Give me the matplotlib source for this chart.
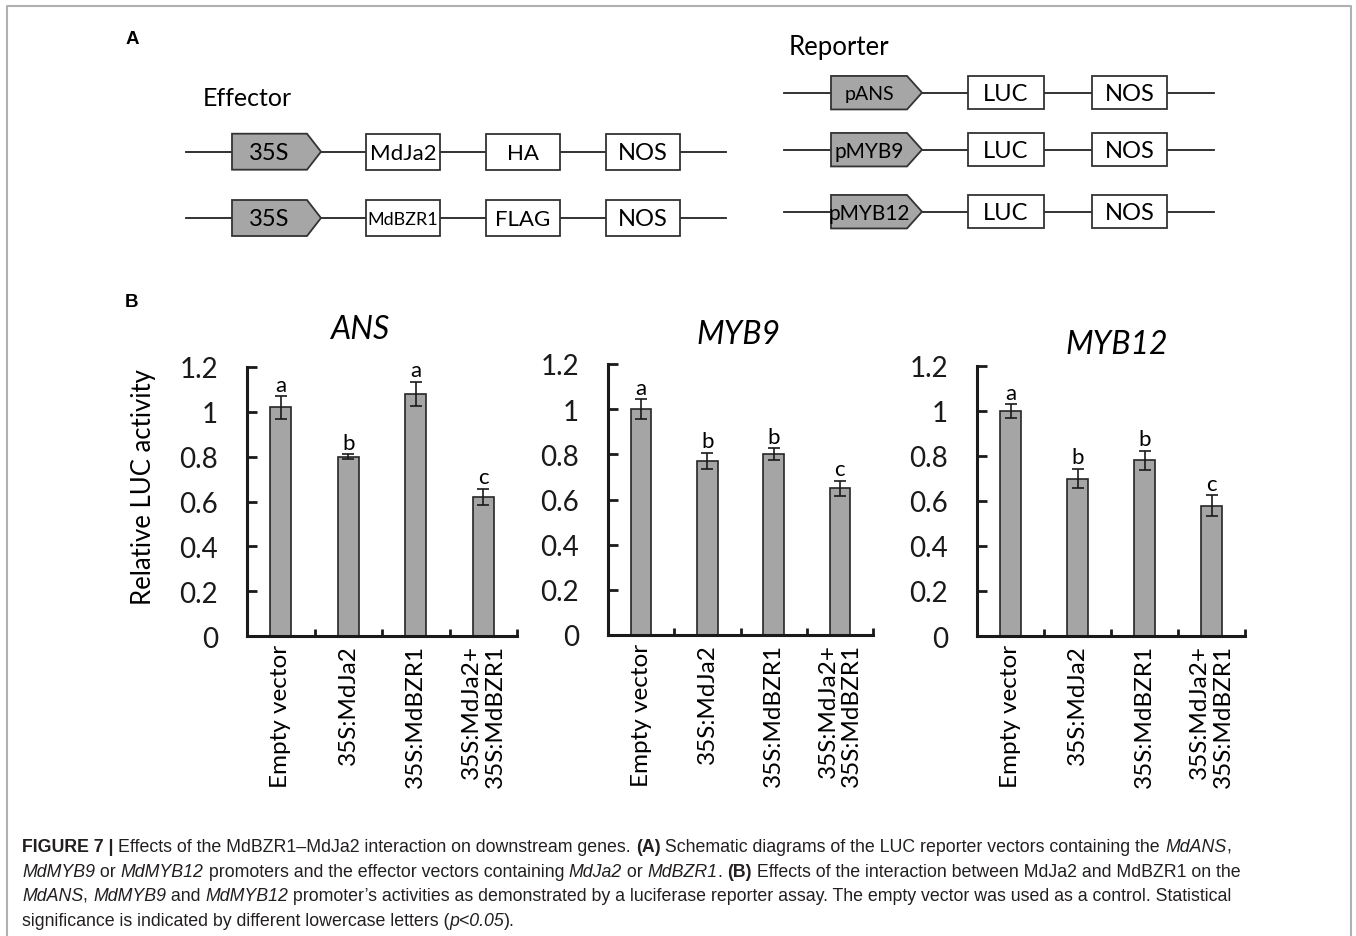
import matplotlib
matplotlib.use('Agg')
import matplotlib.pyplot as plt
from matplotlib.patches import Polygon, Rectangle

plt.rcParams['font.family'] = ['Lato', 'DejaVu Sans']

W, H = 1356, 937

# ---- data (panel B) ----
groups = ['Empty vector', '35S:MdJa2', '35S:MdBZR1', '35S:MdJa2+\n35S:MdBZR1']
genes = ['ANS', 'MYB9', 'MYB12']
ans_mean = [1.02, 0.80, 1.08, 0.62]
ans_err = [0.05, 0.012, 0.055, 0.037]
ans_sig = ['a', 'b', 'a', 'c']
myb9_mean = [1.00, 0.77, 0.80, 0.65]
myb9_err = [0.045, 0.037, 0.027, 0.034]
myb9_sig = ['a', 'b', 'b', 'c']
myb12_mean = [1.00, 0.70, 0.78, 0.58]
myb12_err = [0.03, 0.043, 0.043, 0.047]
myb12_sig = ['a', 'b', 'b', 'c']
yticks = [0, 0.2, 0.4, 0.6, 0.8, 1.0, 1.2]
ytick_labels = ['0', '0.2', '0.4', '0.6', '0.8', '1', '1.2']

# ---- constructs (panel A) ----
effector_promoter = ['35S', '35S']
effector_gene = ['MdJa2', 'MdBZR1']
effector_tag = ['HA', 'FLAG']
effector_term = ['NOS', 'NOS']
reporter_promoter = ['pANS', 'pMYB9', 'pMYB12']
reporter_gene = ['LUC', 'LUC', 'LUC']
reporter_term = ['NOS', 'NOS', 'NOS']

fig = plt.figure(figsize=(W / 100, H / 100), dpi=100)

# overlay in pixel coordinates for schematic, frame and caption
ov = fig.add_axes([0, 0, 1, 1])
ov.set_xlim(0, W)
ov.set_ylim(H, 0)
ov.axis('off')

# frame
ov.plot([7, 7, 1351, 1351], [H + 5, 7, 7, H + 5], color='#b0b0b0', lw=1.5)

ov.text(132, 39, 'A', fontsize=13.5, weight='bold', family='Liberation Sans', ha='center', va='center')
ov.text(131, 303, 'B', fontsize=13.5, weight='bold', family='Liberation Sans', ha='center', va='center')


def construct(y, line, prom, boxes, h):
    ov.plot(line, [y, y], color='#222222', lw=1.3, zorder=1)
    (px0, px1, tip), ptxt, pfs = prom
    poly = Polygon([(px0, y - h / 2), (px1, y - h / 2), (tip, y), (px1, y + h / 2), (px0, y + h / 2)],
                   closed=True, facecolor='#a6a6a6', edgecolor='#333333', lw=1.3, zorder=2)
    ov.add_patch(poly)
    ov.text((px0 + px1) / 2, y + 1, ptxt, fontsize=pfs, ha='center', va='center', zorder=3)
    for (bx0, bx1), btxt, bfs in boxes:
        ov.add_patch(Rectangle((bx0, y - h / 2), bx1 - bx0, h, facecolor='white',
                               edgecolor='#333333', lw=1.3, zorder=2))
        ov.text((bx0 + bx1) / 2, y + 1, btxt, fontsize=bfs, ha='center', va='center', zorder=3)


ov.text(203, 99, 'Effector', fontsize=18, va='center')
eff_y = [152.7, 219]
gene_fs = [16, 13]
for i in range(2):
    construct(eff_y[i], [186, 726], ((232, 307, 321), effector_promoter[i], 17),
              [((366, 440), effector_gene[i], gene_fs[i]),
               ((486, 560), effector_tag[i], 16),
               ((606, 680), effector_term[i], 17)], 36)

ov.text(789, 48, 'Reporter', fontsize=18.5, va='center')
rep_y = [93.7, 150.7, 212.7]
rep_fs = [14, 15, 15]
for i in range(3):
    construct(rep_y[i], [784, 1214], ((831, 907, 922), reporter_promoter[i], rep_fs[i]),
              [((968, 1044), reporter_gene[i], 17),
               ((1092, 1167), reporter_term[i], 17)], 33.5)

# ---- panel B ----
ax_px = [(247, 517, 368, 637), (608, 873, 365, 636), (977, 1245, 367, 637)]
means = [ans_mean, myb9_mean, myb12_mean]
errs = [ans_err, myb9_err, myb12_err]
sigs = [ans_sig, myb9_sig, myb12_sig]
title_pos = [(360, 330), (738, 335), (1117, 345)]

for k in range(3):
    l, r, t, b = ax_px[k]
    ax = fig.add_axes([l / W, 1 - b / H, (r - l) / W, (b - t) / H])
    x = list(range(len(groups)))
    ax.bar(x, means[k], width=0.31, color='#a5a5a5', edgecolor='#262626', linewidth=1.2,
           yerr=errs[k], capsize=4,
           error_kw=dict(elinewidth=1.2, capthick=1.2, ecolor='#1a1a1a'))
    for i in x:
        ax.text(i, means[k][i] + errs[k][i] + 0.006, sigs[k][i], ha='center', va='bottom', fontsize=16)
    ax.set_xlim(-0.5, 3.5)
    ax.set_ylim(0, 1.2)
    for s in ['top', 'right']:
        ax.spines[s].set_visible(False)
    for s in ['left', 'bottom']:
        ax.spines[s].set_linewidth(2.2)
        ax.spines[s].set_color('#1a1a1a')
    ax.set_yticks(yticks)
    ax.set_yticklabels(ytick_labels, fontsize=20)
    ax.tick_params(axis='y', direction='in', length=7, width=2, pad=21, colors='#1a1a1a')
    ax.set_xticks(x)
    ax.set_xticklabels(groups, rotation=90, fontsize=17.5, va='top', ha='center', multialignment='right',
                       linespacing=1.15)
    ax.tick_params(axis='x', which='major', length=0, pad=6)
    ax.set_xticks([0.5, 1.5, 2.5, 3.5], minor=True)
    ax.tick_params(axis='x', which='minor', direction='in', length=5, width=2, colors='#1a1a1a')
    ax.set_facecolor('none')
    tx, ty = title_pos[k]
    fig.text(tx / W, 1 - ty / H, genes[k], fontsize=23, style='italic', ha='center', va='center')

fig.text(143 / W, 1 - 487 / H, 'Relative LUC activity', fontsize=18.5, rotation=90,
         ha='center', va='center')

# ---- caption ----
renderer = fig.canvas.get_renderer()
cap_fs = 12.8
cap_col = '#231f20'


def run_width(s, **kw):
    a = fig.text(0, 0, '|' + s + '|', fontsize=cap_fs, family='Liberation Sans', **kw)
    b = fig.text(0, 0, '||', fontsize=cap_fs, family='Liberation Sans', **kw)
    w = a.get_window_extent(renderer).width - b.get_window_extent(renderer).width
    a.remove()
    b.remove()
    return w


def caption_line(y, runs):
    x = 22
    for s, st in runs:
        kw = {}
        if 'b' in st:
            kw['weight'] = 'bold'
        if 'i' in st:
            kw['style'] = 'italic'
        fig.text(x / W, 1 - y / H, s, fontsize=cap_fs, family='Liberation Sans', color=cap_col,
                 ha='left', va='baseline', **kw)
        x += run_width(s, **kw)


caption_line(852, [('FIGURE 7 | ', 'b'),
                   ('Effects of the MdBZR1\u2013MdJa2 interaction on downstream genes. ', ''),
                   ('(A)', 'b'),
                   (' Schematic diagrams of the LUC reporter vectors containing the ', ''),
                   ('MdANS', 'i'), (',', '')])
caption_line(877, [('MdMYB9', 'i'), (' or ', ''), ('MdMYB12', 'i'),
                   (' promoters and the effector vectors containing ', ''),
                   ('MdJa2', 'i'), (' or ', ''), ('MdBZR1', 'i'), ('. ', ''), ('(B)', 'b'),
                   (' Effects of the interaction between MdJa2 and MdBZR1 on the', '')])
caption_line(901, [('MdANS', 'i'), (', ', ''), ('MdMYB9', 'i'), (' and ', ''), ('MdMYB12', 'i'),
                   (' promoter\u2019s activities as demonstrated by a luciferase reporter assay. '
                    'The empty vector was used as a control. Statistical', '')])
caption_line(926, [('significance is indicated by different lowercase letters (', ''),
                   ('p<0.05', 'i'), (').', '')])

fig.savefig('out.png', dpi=100)
